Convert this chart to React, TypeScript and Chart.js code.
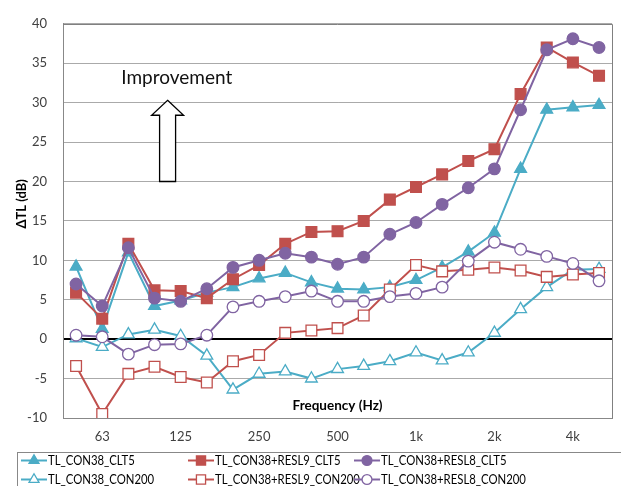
import React, { useEffect, useRef } from 'react';
import { Chart, registerables } from 'chart.js';

Chart.register(...registerables);

const categories = ['50', '63', '80', '100', '125', '160', '200', '250', '315', '400', '500', '630', '800', '1k', '1.25k', '1.6k', '2k', '2.5k', '3.15k', '4k', '5k'];
const tickLabels = ['63', '125', '250', '500', '1k', '2k', '4k'];

const con38Clt5 = [9.2, 1.3, 11.0, 4.2, 4.9, 5.9, 6.6, 7.7, 8.4, 7.2, 6.4, 6.3, 6.6, 7.5, 9.1, 11.1, 13.5, 21.6, 29.1, 29.4, 29.7];
const resl9Clt5 = [5.9, 2.6, 12.1, 6.2, 6.1, 5.2, 7.6, 9.4, 12.1, 13.6, 13.7, 15.0, 17.7, 19.3, 20.9, 22.6, 24.1, 31.1, 37.0, 35.1, 33.4];
const resl8Clt5 = [7.0, 4.2, 11.6, 5.2, 4.8, 6.4, 9.1, 10.0, 10.9, 10.4, 9.5, 10.4, 13.3, 14.8, 17.1, 19.2, 21.6, 29.1, 36.7, 38.1, 37.0];
const con38Con200 = [0.1, -1.0, 0.6, 1.2, 0.4, -2.1, -6.4, -4.4, -4.1, -5.0, -3.8, -3.4, -2.8, -1.7, -2.7, -1.7, 0.8, 3.8, 6.6, 8.8, 8.9];
const resl9Con200 = [-3.4, -9.5, -4.4, -3.5, -4.8, -5.5, -2.8, -2.0, 0.8, 1.1, 1.4, 3.0, 6.3, 9.4, 8.6, 8.8, 9.1, 8.7, 7.9, 8.2, 8.4];
const resl8Con200 = [0.5, 0.3, -1.9, -0.7, -0.6, 0.5, 4.1, 4.8, 5.4, 6.1, 4.8, 4.8, 5.4, 5.8, 6.6, 9.9, 12.3, 11.4, 10.5, 9.6, 7.4];

const seriesNames = ['TL_CON38_CLT5', 'TL_CON38+RESL9_CLT5', 'TL_CON38+RESL8_CLT5', 'TL_CON38_CON200', 'TL_CON38+RESL9_CON200', 'TL_CON38+RESL8_CON200'];
const seriesData = [con38Clt5, resl9Clt5, resl8Clt5, con38Con200, resl9Con200, resl8Con200];

const CYAN = '#4BACC6';
const RED = '#C0504D';
const PURPLE = '#8064A2';
const colors = [CYAN, RED, PURPLE, CYAN, RED, PURPLE];
const styles = ['triangle', 'rect', 'circle', 'triangle', 'rect', 'circle'];
const radii = [6.8, 7.6, 5.8, 6.8, 7.6, 5.8];
const filled = [true, true, true, false, false, false];

const FONT = 'Lato, "Open Sans", sans-serif';

function drawMarker(ctx: CanvasRenderingContext2D, style: string, x: number, y: number, r: number, color: string, fill: boolean) {
  ctx.save();
  ctx.beginPath();
  if (style === 'triangle') {
    for (let k = 0; k < 3; k++) {
      const a = (k * 2 * Math.PI) / 3;
      const px = x + Math.sin(a) * r;
      const py = y - Math.cos(a) * r;
      if (k === 0) ctx.moveTo(px, py);
      else ctx.lineTo(px, py);
    }
    ctx.closePath();
  } else if (style === 'rect') {
    const s = Math.SQRT1_2 * r;
    ctx.rect(x - s, y - s, 2 * s, 2 * s);
  } else {
    ctx.arc(x, y, r, 0, Math.PI * 2);
  }
  ctx.fillStyle = fill ? color : '#ffffff';
  ctx.fill();
  ctx.lineWidth = 1.3;
  ctx.strokeStyle = color;
  ctx.stroke();
  ctx.restore();
}

const decorPlugin = {
  id: 'decor',
  afterDraw(chart: any) {
    const ctx: CanvasRenderingContext2D = chart.ctx;
    const area = chart.chartArea;
    const xs = chart.scales.x;
    const ys = chart.scales.y;
    ctx.save();
    // plot border (top & right)
    ctx.strokeStyle = '#808080';
    ctx.lineWidth = 1;
    ctx.beginPath();
    ctx.moveTo(area.left, Math.round(area.top) + 0.5);
    ctx.lineTo(Math.round(area.right) + 0.5, Math.round(area.top) + 0.5);
    ctx.lineTo(Math.round(area.right) + 0.5, area.bottom);
    ctx.stroke();

    // Improvement arrow
    const xc = xs.getPixelForValue(3.5);
    const tip = ys.getPixelForValue(30.3);
    const base = ys.getPixelForValue(28.4);
    const bottom = ys.getPixelForValue(20);
    ctx.beginPath();
    ctx.moveTo(xc, tip);
    ctx.lineTo(xc + 16, base);
    ctx.lineTo(xc + 8, base);
    ctx.lineTo(xc + 8, bottom);
    ctx.lineTo(xc - 8, bottom);
    ctx.lineTo(xc - 8, base);
    ctx.lineTo(xc - 16, base);
    ctx.closePath();
    ctx.fillStyle = '#ffffff';
    ctx.fill();
    ctx.strokeStyle = '#000000';
    ctx.lineWidth = 1.3;
    ctx.stroke();

    ctx.fillStyle = '#111111';
    ctx.font = `19px ${FONT}`;
    ctx.textAlign = 'center';
    ctx.textBaseline = 'middle';
    ctx.fillText('Improvement', xs.getPixelForValue(3.85), ys.getPixelForValue(33.2));

    // x title inside plot
    ctx.font = `bold 13.5px ${FONT}`;
    ctx.fillStyle = '#000000';
    ctx.fillText('Frequency (Hz)', (area.left + area.right) / 2, area.bottom - 12);

    // y title
    ctx.save();
    ctx.translate(22, area.top + 180);
    ctx.rotate(-Math.PI / 2);
    ctx.font = `bold 13px ${FONT}`;
    ctx.fillText('\u0394TL (dB)', 0, 0);
    ctx.restore();

    // legend
    const boxTop = 452.5;
    ctx.strokeStyle = '#888888';
    ctx.lineWidth = 1;
    ctx.strokeRect(17.5, boxTop, 620, 40);
    const colX = [21, 188, 354];
    const rowY = [460.5, 479.5];
    ctx.font = `13.5px ${FONT}`;
    ctx.textAlign = 'left';
    ctx.textBaseline = 'middle';
    for (let i = 0; i < seriesNames.length; i++) {
      const cx = colX[i % 3];
      const cy = rowY[Math.floor(i / 3)];
      ctx.strokeStyle = colors[i];
      ctx.lineWidth = 2;
      ctx.beginPath();
      ctx.moveTo(cx, cy);
      ctx.lineTo(cx + 26, cy);
      ctx.stroke();
      drawMarker(ctx, styles[i], cx + 13, cy, radii[i] * 0.85, colors[i], filled[i]);
      ctx.save();
      ctx.translate(cx + 27, cy + 0.5);
      ctx.scale(0.84, 1);
      ctx.fillStyle = '#000000';
      ctx.fillText(seriesNames[i], 0, 0);
      ctx.restore();
    }
    ctx.restore();
  },
};

export default function App() {
  const ref = useRef<HTMLCanvasElement | null>(null);

  useEffect(() => {
    if (!ref.current) return;
    const datasets = seriesNames.map((name, i) => ({
      label: name,
      data: seriesData[i],
      borderColor: colors[i],
      backgroundColor: filled[i] ? colors[i] : '#ffffff',
      pointBackgroundColor: filled[i] ? colors[i] : '#ffffff',
      pointBorderColor: colors[i],
      pointBorderWidth: 1.3,
      pointStyle: styles[i] as any,
      pointRadius: radii[i],
      borderWidth: 2,
      tension: 0,
      order: seriesNames.length - i,
    }));
    const chart = new Chart(ref.current, {
      type: 'line',
      data: { labels: categories, datasets },
      options: {
        animation: false,
        responsive: false,
        devicePixelRatio: 1,
        layout: { padding: { left: 0, top: 15, right: 7, bottom: 0 } },
        plugins: { legend: { display: false }, tooltip: { enabled: false } },
        scales: {
          x: {
            type: 'category',
            offset: true,
            grid: { display: false, drawTicks: false },
            border: { display: true, color: '#888888', width: 1 },
            ticks: {
              autoSkip: false,
              maxRotation: 0,
              padding: 11,
              color: '#404040',
              font: { family: FONT, size: 13 },
              callback: (_v: any, index: number) => (tickLabels.includes(categories[index]) ? categories[index] : ''),
            },
            afterFit: (s: any) => {
              s.height = 68;
            },
          },
          y: {
            min: -10,
            max: 40,
            grid: {
              drawTicks: false,
              color: (c: any) => (c.tick && c.tick.value === 0 ? '#000000' : '#aaaaaa'),
              lineWidth: (c: any) => (c.tick && c.tick.value === 0 ? 2 : 1),
            },
            border: { display: true, color: '#888888', width: 1 },
            ticks: {
              stepSize: 5,
              padding: 16,
              color: '#404040',
              font: { family: FONT, size: 13 },
            },
            afterFit: (s: any) => {
              s.width = 63;
            },
          },
        },
      },
      plugins: [decorPlugin],
    });
    return () => chart.destroy();
  }, []);

  return (
    <div style={{ position: 'fixed', left: 0, top: 0, width: 621, height: 486, background: '#fff' }}>
      <canvas ref={ref} width={621} height={486} style={{ display: 'block' }} />
    </div>
  );
}
